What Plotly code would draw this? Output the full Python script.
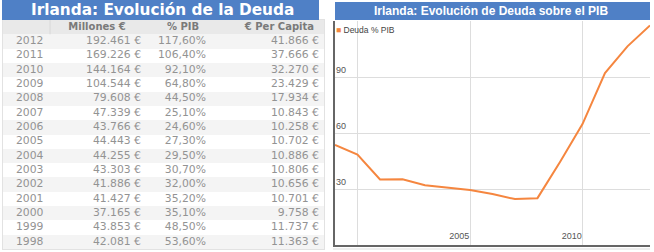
import plotly.graph_objects as go

# ---- data (table order: newest first) ----
years = [2012, 2011, 2010, 2009, 2008, 2007, 2006, 2005, 2004, 2003, 2002, 2001, 2000, 1999, 1998]
millones = [192461, 169226, 144164, 104544, 79608, 47339, 43766, 44443, 44255, 43303, 41886, 41427, 37165, 43853, 42081]
pib_pct = [117.60, 106.40, 92.10, 64.80, 44.50, 25.10, 24.60, 27.30, 29.50, 30.70, 32.00, 35.20, 35.10, 48.50, 53.60]
per_capita = [41866, 37666, 32270, 23429, 17934, 10843, 10258, 10702, 10886, 10806, 10656, 10701, 9758, 11737, 11363]
header_labels = ["Millones €", "% PIB", "€ Per Capita"]
x_tick_years = ["2000", "2005", "2010"]
x_tick_text = ["", "2005", "2010"]
y_ticks = [30, 60, 90]

W, H = 654, 252
def px(x):
    return x / W
def py(y):
    return 1 - y / H

def fmt_eur(v):
    return f"{v:,}".replace(",", ".") + " €"
def fmt_pct(v):
    return f"{v:.2f}".replace(".", ",") + "%"

ORANGE = "#f5863f"
BLUE = "#4f80c6"

fig = go.Figure()

# ---------------- table (built on its own axes x2/y2, row index scale) ----------------
n = len(years)
rows = list(range(1, n + 1))          # row 0 = header
TW = 321                               # table width in its own x units (px)
row_kind = [[0]] + [[1] if i % 2 == 0 else [2] for i in range(n)]
fig.add_trace(go.Heatmap(
    x=[0, TW], y=[r - 0.5 for r in range(n + 2)], z=row_kind,
    colorscale=[[0, "#e9e9e9"], [0.5, "#f4f4f4"], [1, "#ffffff"]],
    zmin=0, zmax=2, showscale=False, hoverinfo="skip",
    xaxis="x2", yaxis="y2",
))

cell_font = dict(family="DejaVu Sans", size=10.8, color="#939393")
head_font = dict(family="DejaVu Sans", size=10, color="#7a7a7a")

fig.add_trace(go.Scatter(x=[13] * n, y=rows, text=[str(y) for y in years], mode="text",
                         textposition="middle right", textfont=cell_font,
                         xaxis="x2", yaxis="y2", hoverinfo="skip"))
fig.add_trace(go.Scatter(x=[138] * n, y=rows, text=[fmt_eur(v) for v in millones], mode="text",
                         textposition="middle left", textfont=cell_font,
                         xaxis="x2", yaxis="y2", hoverinfo="skip"))
fig.add_trace(go.Scatter(x=[203] * n, y=rows, text=[fmt_pct(v) for v in pib_pct], mode="text",
                         textposition="middle left", textfont=cell_font,
                         xaxis="x2", yaxis="y2", hoverinfo="skip"))
fig.add_trace(go.Scatter(x=[316] * n, y=rows, text=[fmt_eur(v) for v in per_capita], mode="text",
                         textposition="middle left", textfont=cell_font,
                         xaxis="x2", yaxis="y2", hoverinfo="skip"))
fig.add_trace(go.Scatter(x=[94, 180, 311], y=[0, 0, 0],
                         text=[f"<b>{h}</b>" for h in header_labels], mode="text",
                         textposition=["middle center", "middle center", "middle left"],
                         textfont=head_font, xaxis="x2", yaxis="y2", hoverinfo="skip"))

# ---------------- line chart ----------------
chron_years = years[::-1]
chron_pib = pib_pct[::-1]
fig.add_trace(go.Scatter(
    x=[f"{y}-12-31" for y in chron_years], y=chron_pib,
    mode="lines", line=dict(color=ORANGE, width=2),
    hoverinfo="skip",
))

axis_font = dict(family="Liberation Sans", size=9, color="#555555")
fig.update_layout(
    width=W, height=H,
    margin=dict(l=0, r=0, t=0, b=0),
    paper_bgcolor="white", plot_bgcolor="white",
    showlegend=False,
    xaxis=dict(
        domain=[px(335), px(650)], type="date",
        range=[f"{chron_years[0]}-12-31", f"{chron_years[-1]}-12-31"],
        tickvals=[f"{y}-01-01" for y in x_tick_years], ticktext=x_tick_text,
        ticklabelposition="inside left", ticks="",
        showgrid=True, gridcolor="#dddddd", gridwidth=1,
        showline=True, linecolor="#666666", linewidth=1.5,
        zeroline=False, tickfont=axis_font,
    ),
    yaxis=dict(
        domain=[py(245), py(21)], range=[0, 120],
        tickvals=y_ticks, ticklabelposition="inside", ticklabelshift=-7,
        ticks="", showgrid=True, gridcolor="#dddddd", gridwidth=1,
        showline=True, linecolor="#666666", linewidth=1.5,
        zeroline=False, tickfont=axis_font,
    ),
    xaxis2=dict(
        domain=[px(3), px(3 + TW)], range=[0, TW], anchor="y2",
        showgrid=False, zeroline=False, showticklabels=False, ticks="",
        showline=True, linecolor="#e2e2e2", linewidth=1, mirror=True,
    ),
    yaxis2=dict(
        domain=[py(249), py(20)], range=[n + 0.5, -0.5], anchor="x2",
        tickvals=[r + 0.5 for r in range(n)], showgrid=True, gridcolor="#e4e4e4", gridwidth=1,
        zeroline=False, showticklabels=False, ticks="",
        showline=True, linecolor="#e2e2e2", linewidth=1, mirror=True,
    ),
    shapes=[
        dict(type="line", xref="x2", yref="y2", x0=47, x1=47, y0=-0.5, y1=0.5,
             line=dict(color="#d8d8d8", width=1)),
        dict(type="rect", xref="paper", yref="paper", x0=px(2), x1=px(319), y0=py(20), y1=py(0),
             fillcolor=BLUE, line=dict(width=0), layer="above"),
        dict(type="rect", xref="paper", yref="paper", x0=px(335), x1=px(650), y0=py(20), y1=py(2),
             fillcolor=BLUE, line=dict(width=0), layer="above"),
        dict(type="line", xref="paper", yref="paper", x0=px(333), x1=px(650), y0=py(249), y1=py(249),
             line=dict(color="#dddddd", width=1)),
    ],
    annotations=[
        dict(text="<b>Irlanda: Evolución de la Deuda</b>", xref="paper", yref="paper",
             x=px(162), y=py(10), xanchor="center", yanchor="middle", showarrow=False,
             font=dict(family="DejaVu Sans", size=15.3, color="white")),
        dict(text="<b>Irlanda: Evolución de Deuda sobre el PIB</b>", xref="paper", yref="paper",
             x=px(491), y=py(11.5), xanchor="center", yanchor="middle", showarrow=False,
             font=dict(family="Liberation Sans", size=12, color="white")),
        dict(text=f"<span style='color:{ORANGE}'>■</span> Deuda % PIB", xref="paper", yref="paper",
             x=px(334), y=py(30), xanchor="left", yanchor="middle", showarrow=False,
             font=dict(family="Liberation Sans", size=8.5, color="#444444")),
    ],
)

fig.write_html("out.html")
